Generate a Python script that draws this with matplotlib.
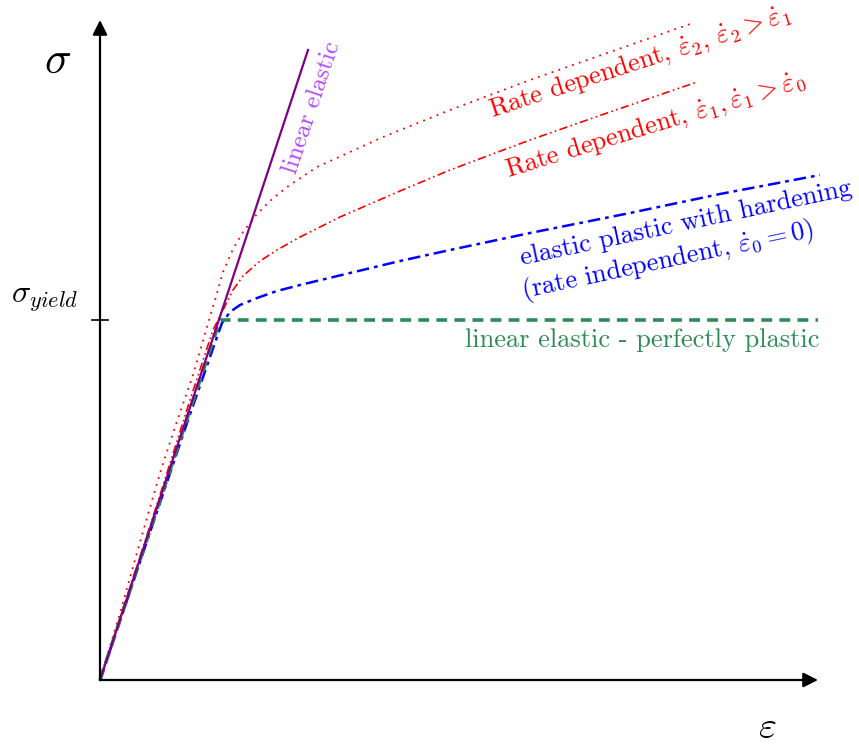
import matplotlib
matplotlib.use("Agg")
import matplotlib.pyplot as plt
import numpy as np

plt.rcParams['mathtext.fontset'] = 'cm'
plt.rcParams['font.family'] = 'cmr10'
plt.rcParams['axes.unicode_minus'] = False

# strain / stress values (arbitrary units)
elastic_x = [0.0, 2.08]
elastic_y = [0.0, 6.30]

perfect_x = [0.0, 1.20, 7.18]
perfect_y = [0.0, 3.60, 3.60]

harden_x = [0.0, 0.87, 1.17, 1.22, 1.30, 1.40, 1.57, 1.77, 2.00, 2.50, 3.00, 3.50, 4.30, 5.30, 6.20, 7.20]
harden_y = [0.0, 2.57, 3.43, 3.57, 3.68, 3.75, 3.82, 3.89, 3.95, 4.07, 4.19, 4.30, 4.47, 4.67, 4.86, 5.05]

rate1_x = [0.0, 0.60, 0.90, 1.13, 1.23, 1.33, 1.43, 1.60, 1.77, 2.00, 2.40, 3.00, 3.50, 4.30, 5.10, 5.97]
rate1_y = [0.0, 1.85, 2.80, 3.50, 3.70, 3.90, 4.04, 4.19, 4.30, 4.43, 4.63, 4.89, 5.10, 5.40, 5.68, 5.98]

rate2_x = [0.0, 0.20, 0.40, 0.60, 0.75, 0.93, 1.07, 1.15, 1.23, 1.33, 1.43, 1.57, 1.70, 1.87, 2.17, 2.83, 3.50, 4.30, 5.10, 5.93]
rate2_y = [0.0, 0.67, 1.38, 2.07, 2.53, 3.05, 3.53, 3.80, 4.08, 4.31, 4.48, 4.66, 4.79, 4.93, 5.13, 5.43, 5.70, 6.00, 6.28, 6.57]

yield_stress = 3.60

fig = plt.figure(figsize=(8.59, 7.47), dpi=100)
ax = fig.add_axes([0, 0, 1, 1])
ax.set_xlim(-1.0, 7.59)
ax.set_ylim(-0.67, 6.80)
ax.axis('off')

# axes arrows
arrow_kw = dict(arrowstyle='-|>', mutation_scale=22, lw=1.6, color='black',
                shrinkA=0, shrinkB=0)
ax.annotate('', xy=(7.18, 0), xytext=(0, 0), arrowprops=arrow_kw)
ax.annotate('', xy=(0, 6.60), xytext=(0, 0), arrowprops=arrow_kw)
ax.plot([-0.08, 0.08], [yield_stress, yield_stress], color='black', lw=1.2)

# curves
ax.plot(rate2_x, rate2_y, color='red', lw=1.3, linestyle=(0, (1, 3)))
ax.plot(rate1_x, rate1_y, color='red', lw=1.2, linestyle=(0, (5, 2, 1, 2, 1, 2)))
ax.plot(harden_x, harden_y, color='blue', lw=1.8, linestyle=(0, (5, 2, 1.5, 2)))
ax.plot(perfect_x, perfect_y, color='seagreen', lw=2.6, linestyle=(0, (3, 2)))
ax.plot(elastic_x, elastic_y, color='purple', lw=1.6)

fs = 19
ax.text(2.12, 5.72, 'linear elastic', color='#b347ff', fontsize=18,
        rotation=71.5, ha='center', va='center', rotation_mode='anchor')
ax.text(5.40, 6.18, r'Rate dependent, $\dot{\varepsilon}_2$, $\dot{\varepsilon}_2 > \dot{\varepsilon}_1$',
        color='red', fontsize=fs, rotation=18, ha='center', va='center', rotation_mode='anchor')
ax.text(5.55, 5.55, r'Rate dependent, $\dot{\varepsilon}_1, \dot{\varepsilon}_1 > \dot{\varepsilon}_0$',
        color='red', fontsize=fs, rotation=17, ha='center', va='center', rotation_mode='anchor')
ax.text(5.86, 4.57, 'elastic plastic with hardening', color='blue', fontsize=fs,
        rotation=12, ha='center', va='center', rotation_mode='anchor')
ax.text(5.68, 4.19, r'(rate independent, $\dot{\varepsilon}_0 = 0$)', color='blue', fontsize=fs,
        rotation=12, ha='center', va='center', rotation_mode='anchor')
ax.text(5.42, 3.40, 'linear elastic - perfectly plastic', color='seagreen', fontsize=fs,
        ha='center', va='center')

ax.text(-0.42, 6.18, r'$\sigma$', fontsize=32, ha='center', va='center')
ax.text(-0.55, 3.80, r'$\sigma_{yield}$', fontsize=23, ha='center', va='center')
ax.text(6.67, -0.48, r'$\varepsilon$', fontsize=28, ha='center', va='center')

fig.savefig('out.png', dpi=100)
